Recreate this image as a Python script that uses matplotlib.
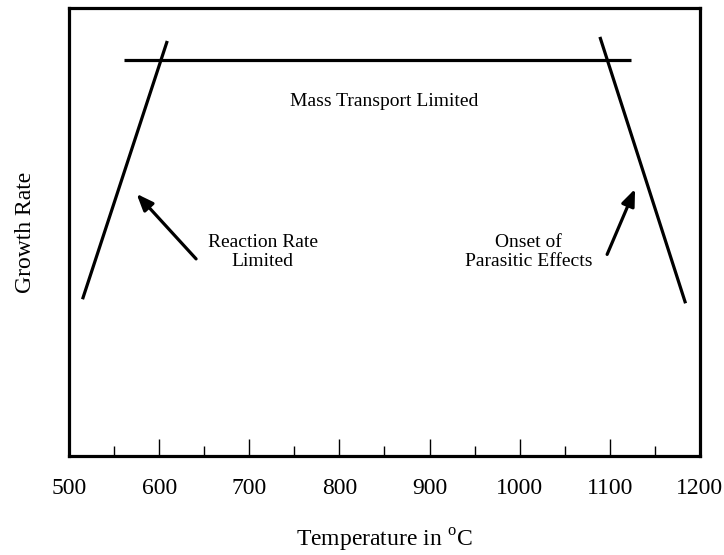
import numpy as np
import matplotlib.pyplot as plt
from matplotlib.ticker import MultipleLocator

plt.rcParams['font.family'] = ['Liberation Serif', 'DejaVu Serif']
plt.rcParams['mathtext.fontset'] = 'custom'
plt.rcParams['mathtext.rm'] = 'Liberation Serif'

# growth regimes (temperature in C, relative growth rate)
reaction_T = [515, 609]
reaction_rate = [0.35, 0.926]
transport_T = [561, 1123]
transport_rate = [0.883, 0.883]
parasitic_T = [1089, 1184]
parasitic_rate = [0.935, 0.341]

fig = plt.figure(figsize=(7.24, 5.55), dpi=100)
ax = fig.add_axes([0.0953, 0.178, 0.8715, 0.808])

lw = 2.3
ax.plot(reaction_T, reaction_rate, color='black', lw=lw, solid_capstyle='butt')
ax.plot(transport_T, transport_rate, color='black', lw=lw, solid_capstyle='butt')
ax.plot(parasitic_T, parasitic_rate, color='black', lw=lw, solid_capstyle='butt')

ax.set_xlim(500, 1200)
ax.set_ylim(0, 1)

# labels for each regime
ax.text(850, 0.79, 'Mass Transport Limited', ha='center', va='center', fontsize=14)
ax.text(715, 0.455, 'Reaction Rate\nLimited', ha='center', va='center',
        fontsize=14, linespacing=1.15)
ax.text(1010, 0.455, 'Onset of\nParasitic Effects', ha='center', va='center',
        fontsize=14, linespacing=1.15)

arrow = dict(arrowstyle='-|>,head_length=1.0,head_width=0.4', color='black', lw=2.3,
             shrinkA=0, shrinkB=0)
ax.annotate('', xy=(575, 0.585), xytext=(641, 0.44), arrowprops=arrow)
ax.annotate('', xy=(1128, 0.596), xytext=(1097, 0.45), arrowprops=arrow)

for s in ax.spines.values():
    s.set_linewidth(2.3)

ax.xaxis.set_major_locator(MultipleLocator(100))
ax.xaxis.set_minor_locator(MultipleLocator(50))
ax.tick_params(axis='x', which='major', direction='in', length=12, width=1.0,
               labelsize=17, pad=16)
ax.tick_params(axis='x', which='minor', direction='in', length=7, width=1.0)
ax.set_yticks([])

ax.set_xlabel('Temperature in $^{\\mathrm{o}}$C', fontsize=17, labelpad=20)
ax.set_ylabel('Growth Rate', fontsize=17, labelpad=24)

fig.savefig('out.png', dpi=100)
